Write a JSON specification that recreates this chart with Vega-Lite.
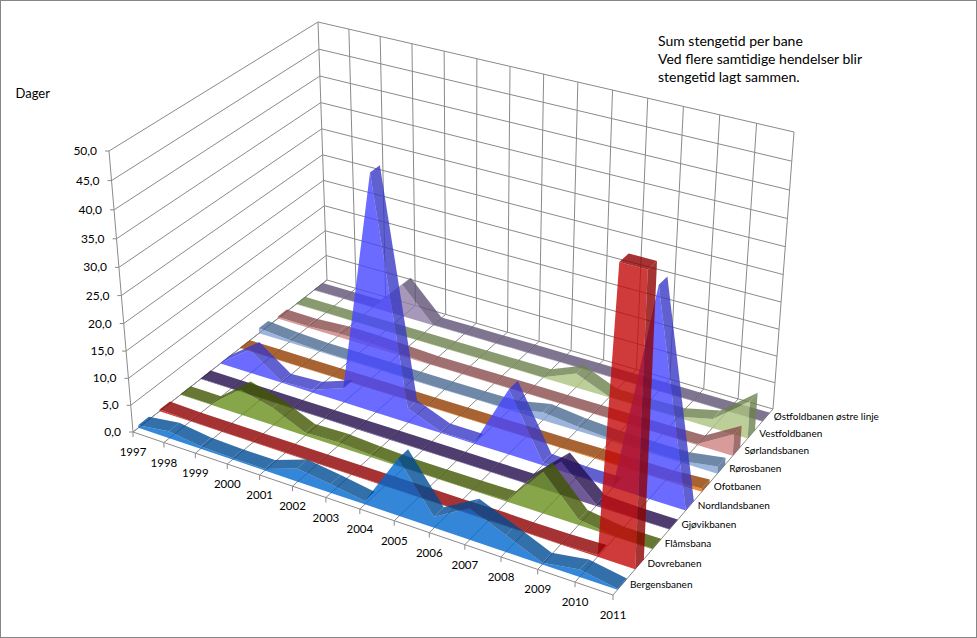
{"$schema":"https://vega.github.io/schema/vega-lite/v6.json","width":977,"height":638,"padding":0,"autosize":{"type":"none"},"background":"white",
"config":{"view":{"stroke":"#868686","strokeWidth":2},"font":"Lato"},
"title":{"text":["Sum stengetid per bane","Ved flere samtidige hendelser blir","stengetid lagt sammen."],"anchor":"start","frame":"group","dx":658,"dy":89,"fontSize":14,"fontWeight":"normal","lineHeight":18,"color":"#000000","font":"Lato"},
"datasets":{
"aar":[{"year":1997},{"year":1998},{"year":1999},{"year":2000},{"year":2001},{"year":2002},{"year":2003},{"year":2004},{"year":2005},{"year":2006},{"year":2007},{"year":2008},{"year":2009},{"year":2010},{"year":2011}],
"verdier":[{"days":0},{"days":5},{"days":10},{"days":15},{"days":20},{"days":25},{"days":30},{"days":35},{"days":40},{"days":45},{"days":50}],
"stengetid":[
{"bane":"Østfoldbanen østre linje","year":1997,"days":0.1},{"bane":"Østfoldbanen østre linje","year":1998,"days":0.1},{"bane":"Østfoldbanen østre linje","year":1999,"days":0.1},{"bane":"Østfoldbanen østre linje","year":2000,"days":6.3},{"bane":"Østfoldbanen østre linje","year":2001,"days":0.1},{"bane":"Østfoldbanen østre linje","year":2002,"days":0.1},{"bane":"Østfoldbanen østre linje","year":2003,"days":0.1},{"bane":"Østfoldbanen østre linje","year":2004,"days":0.1},{"bane":"Østfoldbanen østre linje","year":2005,"days":0.1},{"bane":"Østfoldbanen østre linje","year":2006,"days":0.1},{"bane":"Østfoldbanen østre linje","year":2007,"days":0.1},{"bane":"Østfoldbanen østre linje","year":2008,"days":0.1},{"bane":"Østfoldbanen østre linje","year":2009,"days":0.1},{"bane":"Østfoldbanen østre linje","year":2010,"days":0.1},{"bane":"Østfoldbanen østre linje","year":2011,"days":0.1},
{"bane":"Vestfoldbanen","year":1997,"days":0.1},{"bane":"Vestfoldbanen","year":1998,"days":0.1},{"bane":"Vestfoldbanen","year":1999,"days":0.1},{"bane":"Vestfoldbanen","year":2000,"days":0.1},{"bane":"Vestfoldbanen","year":2001,"days":0.1},{"bane":"Vestfoldbanen","year":2002,"days":0.1},{"bane":"Vestfoldbanen","year":2003,"days":0.1},{"bane":"Vestfoldbanen","year":2004,"days":0.1},{"bane":"Vestfoldbanen","year":2005,"days":0.1},{"bane":"Vestfoldbanen","year":2006,"days":2.7},{"bane":"Vestfoldbanen","year":2007,"days":0.1},{"bane":"Vestfoldbanen","year":2008,"days":0.1},{"bane":"Vestfoldbanen","year":2009,"days":0.2},{"bane":"Vestfoldbanen","year":2010,"days":1.7},{"bane":"Vestfoldbanen","year":2011,"days":7},
{"bane":"Sørlandsbanen","year":1997,"days":0.4},{"bane":"Sørlandsbanen","year":1998,"days":0.3},{"bane":"Sørlandsbanen","year":1999,"days":0.7},{"bane":"Sørlandsbanen","year":2000,"days":0.7},{"bane":"Sørlandsbanen","year":2001,"days":0.4},{"bane":"Sørlandsbanen","year":2002,"days":0.1},{"bane":"Sørlandsbanen","year":2003,"days":0.1},{"bane":"Sørlandsbanen","year":2004,"days":0.1},{"bane":"Sørlandsbanen","year":2005,"days":0.1},{"bane":"Sørlandsbanen","year":2006,"days":0.1},{"bane":"Sørlandsbanen","year":2007,"days":0.1},{"bane":"Sørlandsbanen","year":2008,"days":0.1},{"bane":"Sørlandsbanen","year":2009,"days":0.1},{"bane":"Sørlandsbanen","year":2010,"days":0.2},{"bane":"Sørlandsbanen","year":2011,"days":4},
{"bane":"Rørosbanen","year":1997,"days":1},{"bane":"Rørosbanen","year":1998,"days":0.5},{"bane":"Rørosbanen","year":1999,"days":0.2},{"bane":"Rørosbanen","year":2000,"days":0.2},{"bane":"Rørosbanen","year":2001,"days":0.2},{"bane":"Rørosbanen","year":2002,"days":0.1},{"bane":"Rørosbanen","year":2003,"days":0.1},{"bane":"Rørosbanen","year":2004,"days":0.1},{"bane":"Rørosbanen","year":2005,"days":0.2},{"bane":"Rørosbanen","year":2006,"days":1.5},{"bane":"Rørosbanen","year":2007,"days":0.8},{"bane":"Rørosbanen","year":2008,"days":0.4},{"bane":"Rørosbanen","year":2009,"days":0.3},{"bane":"Rørosbanen","year":2010,"days":0.3},{"bane":"Rørosbanen","year":2011,"days":1.3},
{"bane":"Ofotbanen","year":1997,"days":0.1},{"bane":"Ofotbanen","year":1998,"days":0.1},{"bane":"Ofotbanen","year":1999,"days":0.1},{"bane":"Ofotbanen","year":2000,"days":0.1},{"bane":"Ofotbanen","year":2001,"days":0.1},{"bane":"Ofotbanen","year":2002,"days":0.1},{"bane":"Ofotbanen","year":2003,"days":0.1},{"bane":"Ofotbanen","year":2004,"days":0.1},{"bane":"Ofotbanen","year":2005,"days":0.1},{"bane":"Ofotbanen","year":2006,"days":0.1},{"bane":"Ofotbanen","year":2007,"days":0.1},{"bane":"Ofotbanen","year":2008,"days":0.2},{"bane":"Ofotbanen","year":2009,"days":0.2},{"bane":"Ofotbanen","year":2010,"days":0.2},{"bane":"Ofotbanen","year":2011,"days":0.6},
{"bane":"Nordlandsbanen","year":1997,"days":0.1},{"bane":"Nordlandsbanen","year":1998,"days":4.5},{"bane":"Nordlandsbanen","year":1999,"days":0.2},{"bane":"Nordlandsbanen","year":2000,"days":0.5},{"bane":"Nordlandsbanen","year":2001,"days":2.7},{"bane":"Nordlandsbanen","year":2002,"days":43.5},{"bane":"Nordlandsbanen","year":2003,"days":2.7},{"bane":"Nordlandsbanen","year":2004,"days":0.2},{"bane":"Nordlandsbanen","year":2005,"days":0.2},{"bane":"Nordlandsbanen","year":2006,"days":12},{"bane":"Nordlandsbanen","year":2007,"days":0.5},{"bane":"Nordlandsbanen","year":2008,"days":0.2},{"bane":"Nordlandsbanen","year":2009,"days":0.2},{"bane":"Nordlandsbanen","year":2010,"days":37.5},{"bane":"Nordlandsbanen","year":2011,"days":0.1},
{"bane":"Gjøvikbanen","year":1997,"days":0.1},{"bane":"Gjøvikbanen","year":1998,"days":0.1},{"bane":"Gjøvikbanen","year":1999,"days":0.1},{"bane":"Gjøvikbanen","year":2000,"days":0.1},{"bane":"Gjøvikbanen","year":2001,"days":0.1},{"bane":"Gjøvikbanen","year":2002,"days":0.1},{"bane":"Gjøvikbanen","year":2003,"days":0.1},{"bane":"Gjøvikbanen","year":2004,"days":0.1},{"bane":"Gjøvikbanen","year":2005,"days":0.1},{"bane":"Gjøvikbanen","year":2006,"days":0.1},{"bane":"Gjøvikbanen","year":2007,"days":0.1},{"bane":"Gjøvikbanen","year":2008,"days":6},{"bane":"Gjøvikbanen","year":2009,"days":0.3},{"bane":"Gjøvikbanen","year":2010,"days":0.1},{"bane":"Gjøvikbanen","year":2011,"days":0.1},
{"bane":"Flåmsbana","year":1997,"days":0.1},{"bane":"Flåmsbana","year":1998,"days":0.1},{"bane":"Flåmsbana","year":1999,"days":4.8},{"bane":"Flåmsbana","year":2000,"days":3.3},{"bane":"Flåmsbana","year":2001,"days":0.6},{"bane":"Flåmsbana","year":2002,"days":0.8},{"bane":"Flåmsbana","year":2003,"days":0.4},{"bane":"Flåmsbana","year":2004,"days":0.1},{"bane":"Flåmsbana","year":2005,"days":0.1},{"bane":"Flåmsbana","year":2006,"days":0.1},{"bane":"Flåmsbana","year":2007,"days":0.2},{"bane":"Flåmsbana","year":2008,"days":7.5},{"bane":"Flåmsbana","year":2009,"days":1},{"bane":"Flåmsbana","year":2010,"days":0.1},{"bane":"Flåmsbana","year":2011,"days":0.1},
{"bane":"Dovrebanen","year":1997,"days":0.3},{"bane":"Dovrebanen","year":1998,"days":0.1},{"bane":"Dovrebanen","year":1999,"days":0.1},{"bane":"Dovrebanen","year":2000,"days":0.1},{"bane":"Dovrebanen","year":2001,"days":0.1},{"bane":"Dovrebanen","year":2002,"days":0.1},{"bane":"Dovrebanen","year":2003,"days":0.1},{"bane":"Dovrebanen","year":2004,"days":0.1},{"bane":"Dovrebanen","year":2005,"days":0.1},{"bane":"Dovrebanen","year":2006,"days":0.1},{"bane":"Dovrebanen","year":2007,"days":0.2},{"bane":"Dovrebanen","year":2008,"days":0.1},{"bane":"Dovrebanen","year":2009,"days":0.1},{"bane":"Dovrebanen","year":2010,"days":0.3},{"bane":"Dovrebanen","year":2010.3,"days":50},{"bane":"Dovrebanen","year":2011,"days":50},
{"bane":"Bergensbanen","year":1997,"days":0.5},{"bane":"Bergensbanen","year":1998,"days":1.3},{"bane":"Bergensbanen","year":1999,"days":0.5},{"bane":"Bergensbanen","year":2000,"days":0.3},{"bane":"Bergensbanen","year":2001,"days":0.3},{"bane":"Bergensbanen","year":2002,"days":2.4},{"bane":"Bergensbanen","year":2003,"days":1.6},{"bane":"Bergensbanen","year":2004,"days":0.6},{"bane":"Bergensbanen","year":2005,"days":10.3},{"bane":"Bergensbanen","year":2006,"days":2},{"bane":"Bergensbanen","year":2007,"days":5.6},{"bane":"Bergensbanen","year":2008,"days":3},{"bane":"Bergensbanen","year":2009,"days":0.3},{"bane":"Bergensbanen","year":2010,"days":1.3},{"bane":"Bergensbanen","year":2011,"days":0.2}
]},
"layer":[
{"data":{"name":"verdier"},
"transform":[{"calculate":"[0,1,2]","as":"vert"},{"flatten":["vert"]},
{"calculate":"datum.vert==2?2011:1997","as":"year"},{"calculate":"datum.vert==0?0:1","as":"v"},
{"calculate":"(datum.year-1997)/14","as":"u"},{"calculate":"datum.days/50","as":"t"},
{"calculate":"datum.t/(datum.t+1.06*(1-datum.t))","as":"tz"},
{"calculate":"1-0.10404*datum.u+0.11356*datum.v","as":"wf"},{"calculate":"1-0.11033*datum.u+0.12134*datum.v","as":"wt"},
{"calculate":"(416.22*datum.u+231.13*datum.v+133)/datum.wf","as":"fx"},{"calculate":"(101.10*datum.u-120.20*datum.v+432)/datum.wf","as":"fy"},
{"calculate":"(446.15*datum.u+247.59*datum.v+109)/datum.wt","as":"tx"},{"calculate":"(108.78*datum.u-126.33*datum.v+151)/datum.wt","as":"ty"},
{"calculate":"datum.fx+(datum.tx-datum.fx)*datum.tz","as":"px"},{"calculate":"datum.fy+(datum.ty-datum.fy)*datum.tz","as":"py"}],
"mark":{"type":"line","stroke":"#8a8a8a","strokeWidth":1},
"encoding":{"x":{"field":"px","type":"quantitative","scale":{"domain":[0,977],"nice":false,"zero":false},"axis":null},
"y":{"field":"py","type":"quantitative","scale":{"domain":[638,0],"nice":false,"zero":false},"axis":{"title":"Dager","titleX":15,"titleY":93,"titleAngle":0,"titleAlign":"left","titleBaseline":"middle","titleFontWeight":"normal","titleFontSize":13,"titleFont":"Lato","titleColor":"#000000","labels":false,"ticks":false,"domain":false,"grid":false}},
"detail":{"field":"days"},"order":{"field":"vert"}}},
{"data":{"name":"aar"},
"transform":[{"calculate":"[0,1,2]","as":"vert"},{"flatten":["vert"]},
{"calculate":"datum.vert==2?50:0","as":"days"},{"calculate":"datum.vert==0?0:1","as":"v"},
{"calculate":"(datum.year-1997)/14","as":"u"},{"calculate":"datum.days/50","as":"t"},
{"calculate":"datum.t/(datum.t+1.06*(1-datum.t))","as":"tz"},
{"calculate":"1-0.10404*datum.u+0.11356*datum.v","as":"wf"},{"calculate":"1-0.11033*datum.u+0.12134*datum.v","as":"wt"},
{"calculate":"(416.22*datum.u+231.13*datum.v+133)/datum.wf","as":"fx"},{"calculate":"(101.10*datum.u-120.20*datum.v+432)/datum.wf","as":"fy"},
{"calculate":"(446.15*datum.u+247.59*datum.v+109)/datum.wt","as":"tx"},{"calculate":"(108.78*datum.u-126.33*datum.v+151)/datum.wt","as":"ty"},
{"calculate":"datum.fx+(datum.tx-datum.fx)*datum.tz","as":"px"},{"calculate":"datum.fy+(datum.ty-datum.fy)*datum.tz","as":"py"}],
"mark":{"type":"line","stroke":"#8a8a8a","strokeWidth":1},
"encoding":{"x":{"field":"px","type":"quantitative"},"y":{"field":"py","type":"quantitative"},"detail":{"field":"year"},"order":{"field":"vert"}}},
{"data":{"values":[{"year":1997,"depth":0,"days":50,"seq":0},{"year":1997,"depth":0,"days":0,"seq":1},{"year":2011,"depth":0,"days":0,"seq":2}]},
"transform":[{"calculate":"datum.depth","as":"v"},
{"calculate":"(datum.year-1997)/14","as":"u"},{"calculate":"datum.days/50","as":"t"},
{"calculate":"datum.t/(datum.t+1.06*(1-datum.t))","as":"tz"},
{"calculate":"1-0.10404*datum.u+0.11356*datum.v","as":"wf"},{"calculate":"1-0.11033*datum.u+0.12134*datum.v","as":"wt"},
{"calculate":"(416.22*datum.u+231.13*datum.v+133)/datum.wf","as":"fx"},{"calculate":"(101.10*datum.u-120.20*datum.v+432)/datum.wf","as":"fy"},
{"calculate":"(446.15*datum.u+247.59*datum.v+109)/datum.wt","as":"tx"},{"calculate":"(108.78*datum.u-126.33*datum.v+151)/datum.wt","as":"ty"},
{"calculate":"datum.fx+(datum.tx-datum.fx)*datum.tz","as":"px"},{"calculate":"datum.fy+(datum.ty-datum.fy)*datum.tz","as":"py"}],
"mark":{"type":"line","stroke":"#8a8a8a","strokeWidth":1},
"encoding":{"x":{"field":"px","type":"quantitative"},"y":{"field":"py","type":"quantitative"},"order":{"field":"seq"}}},
{"data":{"name":"stengetid"},
"transform":[
{"window":[{"op":"lead","field":"days","as":"days2"},{"op":"lead","field":"year","as":"year2"}],"groupby":["bane"],"sort":[{"field":"year","order":"ascending"}]},
{"calculate":"[10,11,12,13,4,5,6,7,8,9]","as":"vert"},{"flatten":["vert"]},
{"filter":"datum.vert<6||(datum.vert<10&&datum.year==2011)||(datum.vert>=10&&datum.year2!=null&&datum.days2-datum.days<8.5)"},
{"calculate":"datum.vert==4?datum.year:(datum.vert==5?10000-datum.year:datum.vert)","as":"seq"},
{"calculate":"datum.vert==11||datum.vert==12?datum.year2:datum.year","as":"yr"},
{"calculate":"indexof(['Bergensbanen','Dovrebanen','Flåmsbana','Gjøvikbanen','Nordlandsbanen','Ofotbanen','Rørosbanen','Sørlandsbanen','Vestfoldbanen','Østfoldbanen østre linje'],datum.bane)","as":"idx"},
{"calculate":"datum.vert==12||datum.vert==13||datum.vert==7||datum.vert==8?0.025:-0.025","as":"dv"},
{"calculate":"(datum.idx+0.5)/10+datum.dv","as":"v"},
{"calculate":"datum.vert==11||datum.vert==12?datum.days2:(datum.vert==5||datum.vert==8||datum.vert==9?0:datum.days)","as":"h"},
{"calculate":"datum.bane+'|'+(datum.vert>=6?'r':'s')","as":"farge"},
{"calculate":"datum.vert>=10?'r'+datum.year:(datum.vert>=6?'cap':'front')","as":"gruppe"},
{"calculate":"(datum.yr-1997)/14","as":"u"},{"calculate":"datum.h/50","as":"t"},
{"calculate":"datum.t/(datum.t+1.06*(1-datum.t))","as":"tz"},
{"calculate":"1-0.10404*datum.u+0.11356*datum.v","as":"wf"},{"calculate":"1-0.11033*datum.u+0.12134*datum.v","as":"wt"},
{"calculate":"(416.22*datum.u+231.13*datum.v+133)/datum.wf","as":"fx"},{"calculate":"(101.10*datum.u-120.20*datum.v+432)/datum.wf","as":"fy"},
{"calculate":"(446.15*datum.u+247.59*datum.v+109)/datum.wt","as":"tx"},{"calculate":"(108.78*datum.u-126.33*datum.v+151)/datum.wt","as":"ty"},
{"calculate":"datum.fx+(datum.tx-datum.fx)*datum.tz","as":"px"},{"calculate":"datum.fy+(datum.ty-datum.fy)*datum.tz","as":"py"}],
"mark":{"type":"line","strokeWidth":0,"fillOpacity":0.8},
"encoding":{"x":{"field":"px","type":"quantitative"},"y":{"field":"py","type":"quantitative"},
"fill":{"field":"farge","type":"nominal","legend":null,"scale":{
"domain":["Østfoldbanen østre linje|s","Østfoldbanen østre linje|r","Vestfoldbanen|s","Vestfoldbanen|r","Sørlandsbanen|s","Sørlandsbanen|r","Rørosbanen|s","Rørosbanen|r","Ofotbanen|s","Ofotbanen|r","Nordlandsbanen|s","Nordlandsbanen|r","Gjøvikbanen|s","Gjøvikbanen|r","Flåmsbana|s","Flåmsbana|r","Dovrebanen|s","Dovrebanen|r","Bergensbanen|s","Bergensbanen|r"],
"range":["#8e7ea6","#5f5274","#abc37e","#6d814c","#cf8181","#884b4b","#84a2d3","#4b6a92","#ec6d00","#923c00","#4646ff","#3838c4","#4b317a","#230d4b","#69901d","#405600","#c30909","#8e0000","#0068ce","#004b92"]}},
"detail":{"field":"gruppe"},"order":{"field":"seq"}}},
{"data":{"name":"aar"},
"transform":[{"calculate":"(datum.year-1997)/14","as":"u"},{"calculate":"1-0.10404*datum.u","as":"wf"},
{"calculate":"(416.22*datum.u+133)/datum.wf","as":"px"},{"calculate":"(101.10*datum.u+432)/datum.wf","as":"py"},{"calculate":"datum.py+5","as":"py2"}],
"mark":{"type":"rule","stroke":"#8a8a8a","strokeWidth":1},
"encoding":{"x":{"field":"px","type":"quantitative"},"y":{"field":"py","type":"quantitative"},"y2":{"field":"py2"}}},
{"data":{"name":"aar"},
"transform":[{"calculate":"(datum.year-1997)/14","as":"u"},{"calculate":"1-0.10404*datum.u","as":"wf"},
{"calculate":"(416.22*datum.u+133)/datum.wf","as":"px"},{"calculate":"(101.10*datum.u+432)/datum.wf","as":"py"}],
"mark":{"type":"text","align":"center","baseline":"middle","dy":21,"fontSize":11.5,"font":"Lato","color":"#000000"},
"encoding":{"x":{"field":"px","type":"quantitative"},"y":{"field":"py","type":"quantitative"},"text":{"field":"year","type":"quantitative","format":"d"}}},
{"data":{"name":"verdier"},
"transform":[{"calculate":"datum.days/50","as":"t"},{"calculate":"datum.t/(datum.t+1.06*(1-datum.t))","as":"tz"},
{"calculate":"133+(109-133)*datum.tz","as":"px"},{"calculate":"432+(151-432)*datum.tz","as":"py"},{"calculate":"datum.px-4","as":"px2"}],
"mark":{"type":"rule","stroke":"#8a8a8a","strokeWidth":1},
"encoding":{"x":{"field":"px","type":"quantitative"},"x2":{"field":"px2"},"y":{"field":"py","type":"quantitative"}}},
{"data":{"name":"verdier"},
"transform":[{"calculate":"datum.days/50","as":"t"},{"calculate":"datum.t/(datum.t+1.06*(1-datum.t))","as":"tz"},
{"calculate":"133+(109-133)*datum.tz","as":"px"},{"calculate":"432+(151-432)*datum.tz","as":"py"},
{"calculate":"replace(format(datum.days,'.1f'),'.',',')","as":"etikett"}],
"mark":{"type":"text","align":"right","baseline":"middle","dx":-12,"fontSize":12,"font":"Lato","color":"#000000"},
"encoding":{"x":{"field":"px","type":"quantitative"},"y":{"field":"py","type":"quantitative"},"text":{"field":"etikett"}}},
{"data":{"name":"stengetid"},
"transform":[{"filter":"datum.year==2011"},
{"calculate":"indexof(['Bergensbanen','Dovrebanen','Flåmsbana','Gjøvikbanen','Nordlandsbanen','Ofotbanen','Rørosbanen','Sørlandsbanen','Vestfoldbanen','Østfoldbanen østre linje'],datum.bane)","as":"idx"},
{"calculate":"(datum.idx+0.5)/10","as":"v"},{"calculate":"0.89596+0.11356*datum.v","as":"wf"},
{"calculate":"(549.22+231.13*datum.v)/datum.wf","as":"px"},{"calculate":"(533.10-120.20*datum.v)/datum.wf","as":"py"}],
"mark":{"type":"text","align":"left","baseline":"middle","dx":8,"fontSize":10,"font":"Lato","color":"#000000"},
"encoding":{"x":{"field":"px","type":"quantitative"},"y":{"field":"py","type":"quantitative"},"text":{"field":"bane"}}}
]}
